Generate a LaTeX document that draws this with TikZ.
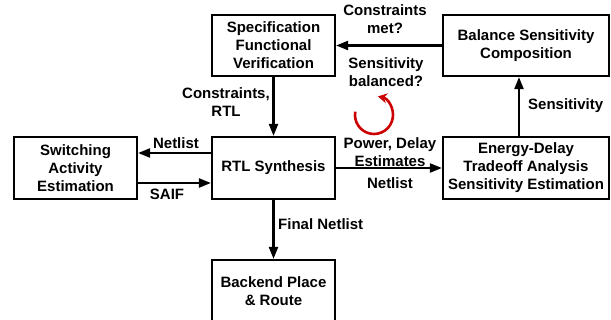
\documentclass[tikz,border=0pt]{standalone}
\usepackage{fontspec}
\setmainfont{Liberation Sans}
\usetikzlibrary{arrows.meta,calc}
\begin{document}
\begin{tikzpicture}[x=1pt,y=-1pt,
  every node/.style={font=\fontsize{15}{18}\selectfont\bfseries, align=center, inner sep=0pt},
  block/.style={draw, line width=2.2pt},
  flow/.style={line width=2.2pt, -{Triangle[length=12pt,width=9pt]}},
  loop/.style={line width=2.6pt, draw=arrowred, -{Stealth[length=9pt,width=10pt]}}]
\definecolor{arrowred}{RGB}{204,0,0}
\useasboundingbox (0,0) rectangle (611,320);
\clip (0,0) rectangle (611,320);

% process blocks
\node[block, minimum width=123pt, minimum height=61pt] (spec) at (273.5,45.5)
  {Specification\\Functional\\Verification};
\node[block, minimum width=166pt, minimum height=61pt] (bal) at (526,45.5)
  {Balance Sensitivity\\Composition};
\node[block, minimum width=123pt, minimum height=62pt] (sw) at (75.5,168)
  {Switching\\Activity\\Estimation};
\node[block, minimum width=123pt, minimum height=62pt] (rtl) at (273.5,168)
  {RTL Synthesis};
\node[block, minimum width=166pt, minimum height=62pt] (ed) at (526,168)
  {Energy-Delay\\Tradeoff Analysis\\Sensitivity Estimation};
\node[block, minimum width=123pt, minimum height=62pt] (be) at (273.5,291)
  {Backend Place\\\& Route};

% connectors
\draw[flow] (spec.south) -- (rtl.north);
\draw[flow] ($(rtl.west)+(0,-15)$) -- ($(sw.east)+(0,-15)$);
\draw[flow] ($(sw.east)+(0,15)$) -- ($(rtl.west)+(0,15)$);
\draw[flow] (rtl.east) -- (ed.west);
\draw[flow] ($(ed.north)+(-7,0)$) -- ($(bal.south)+(-7,0)$);
\draw[flow] (bal.west) -- (spec.east);
\draw[flow] (rtl.south) -- (be.north);

% connector labels
\node (lcr) at (226,102.5) {Constraints,\\RTL};
\node (lnl) at (176,143) {Netlist};
\node (lsaif) at (167,194) {SAIF};
\node[anchor=west] (lfn) at (278,224) {Final Netlist};
\node (lpd) at (390,152) {Power, Delay\\Estimates};
\node (lnl2) at (390,183) {Netlist};
\node[anchor=west] (lsens) at (528,106) {Sensitivity};
\node (lcm) at (385,19) {Constraints\\met?};
\node (lsb) at (386,72) {Sensitivity\\balanced?};

% iteration loop
\draw[loop] ($(374,115)+(190:19)$) arc[start angle=190, end angle=-78, radius=19];
\end{tikzpicture}
\end{document}
